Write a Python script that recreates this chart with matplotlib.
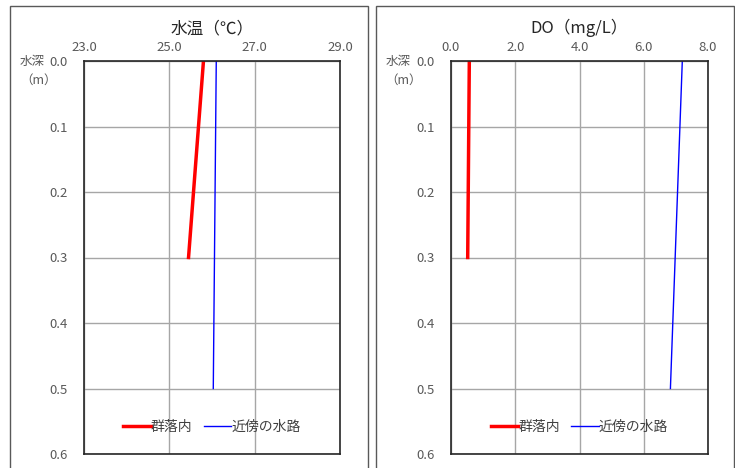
import matplotlib
matplotlib.use("Agg")
import matplotlib.pyplot as plt
from matplotlib.patches import Rectangle

plt.rcParams['font.family'] = ['Noto Sans CJK JP', 'DejaVu Sans']

# data
depth_in = [0.0, 0.3]          # 群落内
depth_ch = [0.0, 0.5]          # 近傍の水路
temp_in = [25.8, 25.45]
temp_ch = [26.1, 26.03]
do_in = [0.57, 0.52]
do_ch = [7.2, 6.83]

temp_ticks = [23.0, 25.0, 27.0, 29.0]
do_ticks = [0.0, 2.0, 4.0, 6.0, 8.0]
depth_ticks = [0.0, 0.1, 0.2, 0.3, 0.4, 0.5, 0.6]
labels = ['群落内', '近傍の水路']

fig = plt.figure(figsize=(7.35, 4.68), dpi=100)

# panel frames
for x0 in (10 / 735, 376 / 735):
    fig.patches.append(Rectangle((x0, -0.02), 358 / 735, 1 - 6 / 468 + 0.02,
                                 transform=fig.transFigure, fill=False,
                                 edgecolor='#595959', linewidth=1.0))

bottom = 1 - 454 / 468
height = (454 - 61) / 468
ax1 = fig.add_axes([84 / 735, bottom, 256 / 735, height])
ax2 = fig.add_axes([451 / 735, bottom, 257 / 735, height])

panels = [
    (ax1, temp_in, temp_ch, temp_ticks, '水温（℃）', -0.25),
    (ax2, do_in, do_ch, do_ticks, 'DO（mg/L）', -0.255),
]

for ax, v_in, v_ch, xt, title, ylx in panels:
    ax.plot(v_in, depth_in, color='#ff0000', linewidth=2.5, label=labels[0])
    ax.plot(v_ch, depth_ch, color='#0000ff', linewidth=1, label=labels[1])
    ax.set_xlim(xt[0], xt[-1])
    ax.set_ylim(0.6, 0.0)
    ax.set_xticks(xt)
    ax.set_xticklabels([f'{v:.1f}' for v in xt])
    ax.set_yticks(depth_ticks)
    ax.set_yticklabels([f'{v:.1f}' for v in depth_ticks])
    ax.xaxis.tick_top()
    ax.tick_params(length=0, labelsize=9.5, colors='#595959', pad=5)
    ax.tick_params(axis='y', pad=12)
    ax.grid(True, color='#a6a6a6', linewidth=1.0)
    ax.set_axisbelow(True)
    for s in ax.spines.values():
        s.set_color('#262626')
        s.set_linewidth(1.2)
    ax.set_title(title, fontsize=12, color='#262626', pad=20)
    ax.legend(loc='lower center', bbox_to_anchor=(0.5, 0.02), ncol=2,
              frameon=False, fontsize=10, handlelength=2.0, handletextpad=0.0,
              columnspacing=0.8, labelcolor='#404040')
    ax.text(ylx, 1.0, '水深', transform=ax.transAxes, fontsize=9,
            color='#595959', va='center', ha='left')
    ax.text(ylx, 0.95, '（m）', transform=ax.transAxes, fontsize=9,
            color='#595959', va='center', ha='left')

fig.savefig('out.png', dpi=100)
